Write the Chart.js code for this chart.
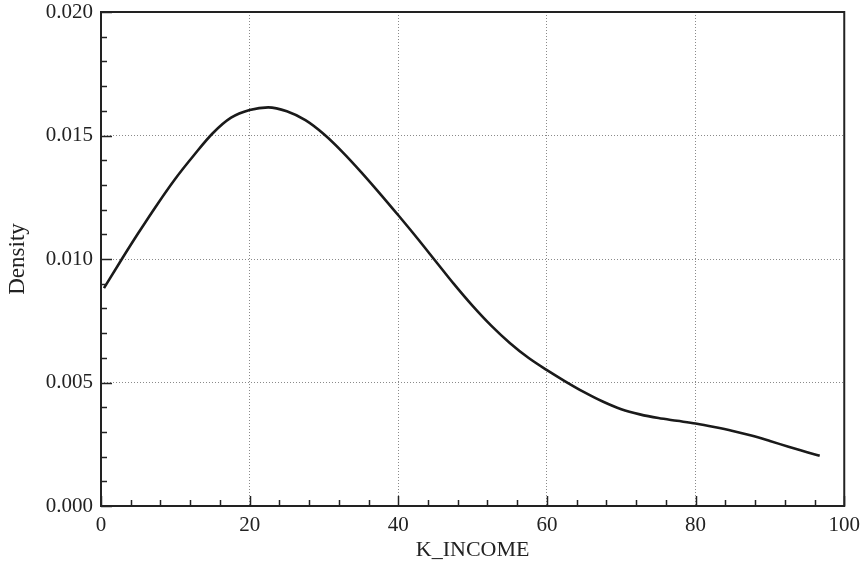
<!DOCTYPE html>
<html>
<head>
<meta charset="utf-8">
<script src="https://cdn.jsdelivr.net/npm/chart.js@4/dist/chart.umd.min.js"></script>
<style>
html,body{margin:0;padding:0;background:#fff;}
#wrap{width:867px;height:564px;position:relative;}
</style>
</head>
<body>
<div id="wrap"><canvas id="c" width="867" height="564"></canvas></div>
<script>
const incomeValues = [0.4, 2.5, 5, 7.5, 10, 12.5, 15, 17.5, 20, 22.5, 25, 27.5, 30, 32.5, 35, 37.5, 40, 42.5, 45, 47.5, 50, 52.5, 55, 57.5, 60, 62.5, 65, 67.5, 70, 72.5, 75, 77.5, 80, 82.5, 85, 87.5, 90, 92.5, 95, 96.7];
const densityValues = [0.00882, 0.00985, 0.01104, 0.01218, 0.01325, 0.01420, 0.01508, 0.01572, 0.01603, 0.01614, 0.01598, 0.01562, 0.01505, 0.01433, 0.01352, 0.01266, 0.01177, 0.01086, 0.00992, 0.00898, 0.00810, 0.00730, 0.00660, 0.00600, 0.00550, 0.00504, 0.00461, 0.00423, 0.00392, 0.00371, 0.00356, 0.00345, 0.00334, 0.00320, 0.00304, 0.00285, 0.00263, 0.00240, 0.00218, 0.00203];
const xMajorTicks = [0, 20, 40, 60, 80, 100];
const yMajorTicks = [0, 0.005, 0.010, 0.015, 0.020];
const xMinorStep = 4;
const yMinorStep = 0.001;
const xTitle = 'K_INCOME';
const yTitle = 'Density';

const points = incomeValues.map((x, i) => ({x: x, y: densityValues[i]}));
const FONT = "'Liberation Serif', 'DejaVu Serif', serif";

const frameTicks = {
  id: 'frameTicks',
  afterDraw(chart) {
    const {ctx, chartArea: a, scales} = chart;
    const xs = scales.x, ys = scales.y;
    ctx.save();
    ctx.strokeStyle = '#222';
    ctx.lineWidth = 1.5;
    for (let v = 0; v <= 100 + 1e-9; v += xMinorStep) {
      const px = Math.round(xs.getPixelForValue(v)) + 0.5;
      const major = xMajorTicks.some(m => Math.abs(m - v) < 1e-9);
      const len = major ? 10 : 6;
      ctx.beginPath();
      ctx.moveTo(px, a.bottom);
      ctx.lineTo(px, a.bottom - len);
      ctx.stroke();
    }
    for (let k = 0; k <= 20; k++) {
      const v = k * yMinorStep;
      const py = Math.round(ys.getPixelForValue(v)) + 0.5;
      const major = k % 5 === 0;
      const len = major ? 11 : 6;
      ctx.beginPath();
      ctx.moveTo(a.left, py);
      ctx.lineTo(a.left + len, py);
      ctx.stroke();
    }
    ctx.lineWidth = 2;
    ctx.strokeStyle = '#222';
    ctx.strokeRect(a.left, a.top, a.right - a.left, a.bottom - a.top);
    ctx.restore();
  }
};

new Chart(document.getElementById('c'), {
  type: 'line',
  data: {
    datasets: [{
      data: points,
      borderColor: '#1a1a1a',
      borderWidth: 2.6,
      pointRadius: 0,
      cubicInterpolationMode: 'monotone',
      fill: false
    }]
  },
  options: {
    responsive: false,
    animation: false,
    layout: {padding: {left: 0, right: 22, top: 0, bottom: 0}},
    plugins: {legend: {display: false}, tooltip: {enabled: false}},
    scales: {
      x: {
        type: 'linear',
        min: 0, max: 100,
        afterBuildTicks(s) { s.ticks = xMajorTicks.map(v => ({value: v})); },
        afterFit(s) { s.height = 58; },
        grid: {color: '#8a8a8a', lineWidth: 1, drawTicks: false},
        border: {display: false, dash: [1, 2]},
        ticks: {
          padding: 7,
          color: '#222',
          font: {family: FONT, size: 21},
          callback: v => String(v),
          maxRotation: 0
        },
        title: {display: true, text: xTitle, color: '#222', font: {family: FONT, size: 22}, padding: {top: 0, bottom: 1}}
      },
      y: {
        type: 'linear',
        min: 0, max: 0.02,
        afterBuildTicks(s) { s.ticks = yMajorTicks.map(v => ({value: v})); },
        afterFit(s) { s.width = 101; s.paddingTop = 12; },
        grid: {color: '#8a8a8a', lineWidth: 1, drawTicks: false},
        border: {display: false, dash: [1, 2]},
        ticks: {
          padding: 8,
          color: '#222',
          font: {family: FONT, size: 21},
          callback: v => Number(v).toFixed(3)
        },
        title: {display: true, text: yTitle, color: '#222', font: {family: FONT, size: 23}, padding: {top: 4, bottom: 0}}
      }
    }
  },
  plugins: [frameTicks]
});
</script>
</body>
</html>
